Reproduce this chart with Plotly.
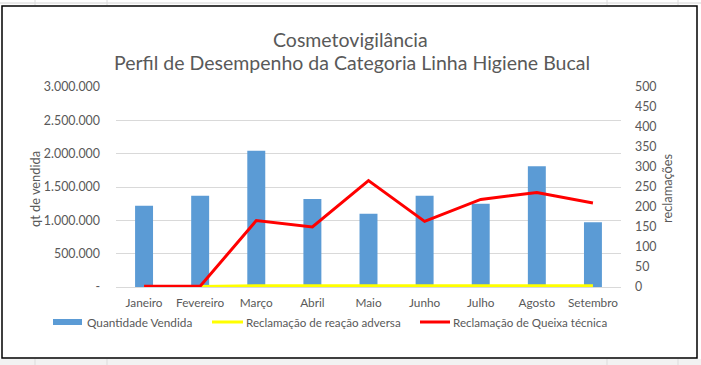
import plotly.graph_objects as go

meses = ["Janeiro", "Fevereiro", "Março", "Abril", "Maio", "Junho", "Julho", "Agosto", "Setembro"]
quantidade_vendida = [1220000, 1370000, 2045000, 1320000, 1100000, 1370000, 1250000, 1810000, 970000]
reacao_adversa = [1, 1, 3, 3, 4, 3, 3, 3, 3]
queixa_tecnica = [2, 2, 166, 150, 266, 164, 219, 236, 210]

left_tickvals = [0, 500000, 1000000, 1500000, 2000000, 2500000, 3000000]
left_ticktext = ["-", "500.000", "1.000.000", "1.500.000", "2.000.000", "2.500.000", "3.000.000"]
right_tickvals = list(range(0, 501, 50))

GRAY = "#595959"
FONT = "Lato"

W, H = 701, 365
L, R, T, B = 116, 80, 87, 78
PW, PH = W - L - R, H - T - B


def px(x):
    return (x - L) / PW


def py(y):
    return (H - B - y) / PH


fig = go.Figure()
fig.add_trace(go.Bar(x=meses, y=quantidade_vendida, name="Quantidade Vendida",
                     marker=dict(color="#5b9bd5", line=dict(width=0)), width=0.32,
                     showlegend=False))
fig.add_trace(go.Scatter(x=meses, y=reacao_adversa, name="Reclamação de reação adversa",
                         mode="lines", line=dict(color="#ffff00", width=3), yaxis="y2",
                         showlegend=False))
fig.add_trace(go.Scatter(x=meses, y=queixa_tecnica, name="Reclamação de Queixa técnica",
                         mode="lines", line=dict(color="#ff0000", width=3), yaxis="y2",
                         showlegend=False))

shapes = []
# spreadsheet background lines
shapes.append(dict(type="rect", xref="paper", yref="paper", x0=px(-5), x1=px(W + 5),
                   y0=py(H + 5), y1=py(359), fillcolor="#f2f2f2", line=dict(width=0), layer="below"))
shapes.append(dict(type="line", xref="paper", yref="paper", x0=px(0), x1=px(W),
                   y0=py(3), y1=py(3), line=dict(color="#d4d4d4", width=1), layer="below"))
for vx in [35, 107, 607, 678]:
    shapes.append(dict(type="line", xref="paper", yref="paper", x0=px(vx), x1=px(vx),
                       y0=py(0), y1=py(5), line=dict(color="#dcdcdc", width=1), layer="below"))
    shapes.append(dict(type="line", xref="paper", yref="paper", x0=px(vx), x1=px(vx),
                       y0=py(359), y1=py(H), line=dict(color="#dcdcdc", width=1), layer="below"))
# chart border
shapes.append(dict(type="rect", xref="paper", yref="paper", x0=px(2), x1=px(697),
                   y0=py(358), y1=py(6), line=dict(color="#000000", width=1.5),
                   fillcolor="rgba(0,0,0,0)"))
# legend swatches
shapes.append(dict(type="rect", xref="paper", yref="paper", x0=px(53), x1=px(82),
                   y0=py(325), y1=py(319), fillcolor="#5b9bd5", line=dict(width=0)))
shapes.append(dict(type="line", xref="paper", yref="paper", x0=px(212), x1=px(243),
                   y0=py(322), y1=py(322), line=dict(color="#ffff00", width=3)))
shapes.append(dict(type="line", xref="paper", yref="paper", x0=px(420), x1=px(450),
                   y0=py(322), y1=py(322), line=dict(color="#ff0000", width=3)))

annotations = [
    dict(text="Cosmetovigilância", x=px(350), y=py(39), xref="paper", yref="paper",
         showarrow=False, font=dict(family=FONT, size=19.5, color=GRAY), xanchor="center", yanchor="middle"),
    dict(text="Perfil de Desempenho da Categoria Linha Higiene Bucal", x=px(352), y=py(63),
         xref="paper", yref="paper", showarrow=False, font=dict(family=FONT, size=19.5, color=GRAY),
         xanchor="center", yanchor="middle"),
    dict(text="qt de vendida", x=px(35), y=py(189), xref="paper", yref="paper", showarrow=False,
         textangle=-90, font=dict(family=FONT, size=12.8, color=GRAY), xanchor="center", yanchor="middle"),
    dict(text="reclamações", x=px(667), y=py(188), xref="paper", yref="paper", showarrow=False,
         textangle=-90, font=dict(family=FONT, size=12.8, color=GRAY), xanchor="center", yanchor="middle"),
    dict(text="Quantidade Vendida", x=px(85), y=py(322), xref="paper", yref="paper", showarrow=False,
         font=dict(family=FONT, size=11.8, color=GRAY), xanchor="left", yanchor="middle"),
    dict(text="Reclamação de reação adversa", x=px(244), y=py(322), xref="paper", yref="paper",
         showarrow=False, font=dict(family=FONT, size=11.6, color=GRAY), xanchor="left", yanchor="middle"),
    dict(text="Reclamação de Queixa técnica", x=px(451), y=py(322), xref="paper", yref="paper",
         showarrow=False, font=dict(family=FONT, size=11.6, color=GRAY), xanchor="left", yanchor="middle"),
]

fig.update_layout(
    width=W, height=H,
    margin=dict(l=L, r=R, t=T, b=B, pad=0),
    paper_bgcolor="white", plot_bgcolor="white",
    font=dict(family=FONT, size=12, color=GRAY),
    xaxis=dict(showgrid=False, showline=False, ticks="", zeroline=False, ticklabelstandoff=7,
               tickfont=dict(family=FONT, size=11.8, color=GRAY)),
    yaxis=dict(range=[0, 3000000], tickvals=left_tickvals, ticktext=left_ticktext,
               showgrid=True, gridcolor="#d9d9d9", gridwidth=1, zeroline=True,
               zerolinecolor="#d9d9d9", zerolinewidth=1, ticks="", ticklabelstandoff=15,
               tickfont=dict(family=FONT, size=12.4, color=GRAY)),
    yaxis2=dict(range=[0, 500], tickvals=right_tickvals, overlaying="y", side="right",
                showgrid=False, zeroline=False, ticks="", ticklabelstandoff=13,
                tickfont=dict(family=FONT, size=12.4, color=GRAY)),
    shapes=shapes,
    annotations=annotations,
    showlegend=False,
)

fig.write_html("out.html", config={"displayModeBar": False},
               post_script="document.body.style.margin='0';")
